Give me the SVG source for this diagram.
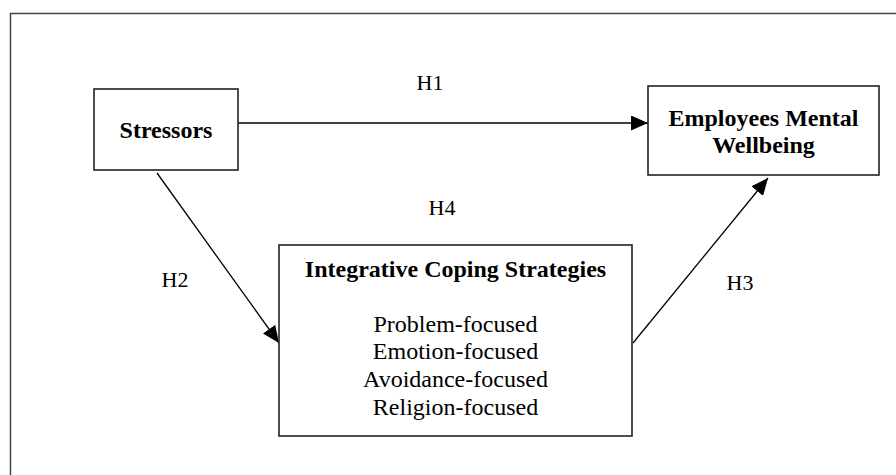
<svg xmlns="http://www.w3.org/2000/svg" width="896" height="475" viewBox="0 0 896 475">
<style>
.box{fill:#fff;stroke:#222;stroke-width:1.6}
.t{font-family:"Liberation Serif","Times New Roman",serif;fill:#000;text-anchor:middle}
.b{font-weight:bold;font-size:24px}
.n{font-size:24px}
.h{font-size:22px}
.c{stroke:#000;stroke-width:1.3;fill:none;marker-end:url(#ah)}
</style>
<defs>
<marker id="ah" markerWidth="17" markerHeight="15" refX="17" refY="7.5" orient="auto" markerUnits="userSpaceOnUse">
<path d="M0,0 L17,7.5 L0,15 Z" fill="#000"/>
</marker>
</defs>
<rect x="0" y="0" width="896" height="475" fill="#fff"/>
<path d="M10.5,480 V13.5 H900" fill="none" stroke="#444" stroke-width="1.5"/>
<g id="connectors">
<line class="c" x1="238" y1="123" x2="648" y2="123"/>
<line class="c" x1="157" y1="173" x2="279" y2="343"/>
<line class="c" x1="633" y1="343" x2="768" y2="178"/>
<text class="t h" x="430" y="90">H1</text>
<text class="t h" x="175" y="287">H2</text>
<text class="t h" x="740" y="290">H3</text>
<text class="t h" x="442" y="215">H4</text>
</g>
<g id="stressors">
<rect class="box" x="94" y="89" width="144" height="81"/>
<text class="t b" x="166" y="138">Stressors</text>
</g>
<g id="wellbeing">
<rect class="box" x="648" y="86" width="231" height="89"/>
<text class="t b" x="763.5" y="126">Employees Mental</text>
<text class="t b" x="763.5" y="153">Wellbeing</text>
</g>
<g id="coping">
<rect class="box" x="279" y="245" width="353" height="191"/>
<text class="t b" x="455.5" y="277">Integrative Coping Strategies</text>
<text class="t n" x="455.5" y="332">Problem-focused</text>
<text class="t n" x="455.5" y="359">Emotion-focused</text>
<text class="t n" x="455.5" y="387">Avoidance-focused</text>
<text class="t n" x="455.5" y="415">Religion-focused</text>
</g>
</svg>
